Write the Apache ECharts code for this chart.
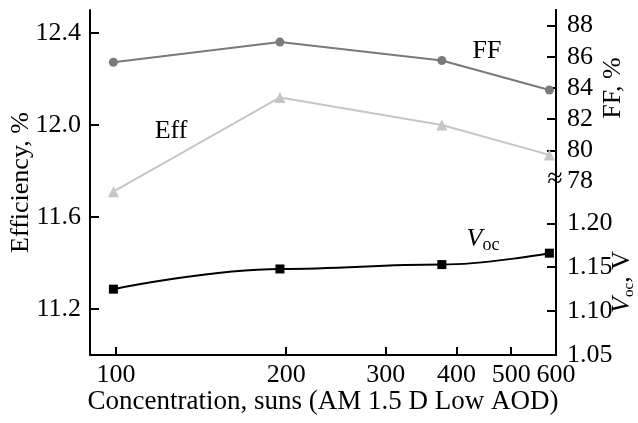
<!DOCTYPE html>
<html>
<head>
<meta charset="utf-8">
<script src="https://cdn.jsdelivr.net/npm/echarts@6/dist/echarts.min.js"></script>
<style>
  html, body { margin: 0; padding: 0; background: #fff; }
  #chart { width: 638px; height: 423px; }
</style>
</head>
<body>
<div id="chart"></div>
<script>
// concentration in suns (log x axis)
var concentration = [99, 195, 377, 584];
// efficiency, %  (left axis)
var effData = [11.71, 12.12, 12.0, 11.87];
// fill factor, %  (right axis, upper part)
var ffData = [85.65, 86.94, 85.76, 83.87];
// open circuit voltage, V  (right axis, lower part)
var vocData = [1.125, 1.148, 1.153, 1.166];

var xTicks = [100, 200, 300, 400, 500, 600];
var effTicks = [11.2, 11.6, 12.0, 12.4];
var ffTicks = [78, 80, 82, 84, 86, 88];
var vocTicks = [1.05, 1.1, 1.15, 1.2];

var FONT = "Liberation Serif";
var FS = 26;

function pairs(vals) {
  return concentration.map(function (c, i) { return [c, vals[i]]; });
}

var chart = echarts.init(document.getElementById("chart"));

var axisLine = { show: true, lineStyle: { color: "#000", width: 2 } };
var labelStyle = { color: "#000", fontFamily: FONT, fontSize: FS };

var option = {
  animation: false,
  textStyle: { fontFamily: FONT },
  grid: { left: 90, right: 82, top: 10, bottom: 68, containLabel: false, outerBoundsMode: "none" },
  xAxis: {
    type: "log",
    logBase: 10,
    min: 90,
    max: 600,
    name: "Concentration, suns (AM 1.5 D Low AOD)",
    nameLocation: "middle",
    nameGap: 33,
    nameMoveOverlap: false,
    nameTextStyle: { color: "#000", fontFamily: FONT, fontSize: 27 },
    axisLine: axisLine,
    axisTick: { show: true, inside: true, length: 8, lineStyle: { color: "#000", width: 2 }, customValues: [100, 200, 300, 400, 500] },
    axisLabel: Object.assign({ margin: 7, customValues: xTicks, formatter: function (v) { return String(Math.round(v)); } }, labelStyle),
    splitLine: { show: false },
    minorTick: { show: false }
  },
  yAxis: [
    {
      type: "value",
      position: "left",
      min: 11.0,
      max: 12.5,
      name: "Efficiency, %",
      nameLocation: "middle",
      nameRotate: 90,
      nameGap: 56,
      nameMoveOverlap: false,
      nameTextStyle: labelStyle,
      axisLine: axisLine,
      axisTick: { show: true, inside: true, length: 9, lineStyle: { color: "#000", width: 2 }, customValues: effTicks },
      axisLabel: Object.assign({ margin: 9, customValues: effTicks, formatter: function (v) { return v.toFixed(1); } }, labelStyle),
      splitLine: { show: false }
    },
    {
      type: "value",
      position: "right",
      min: 66.87,
      max: 89,
      axisLine: axisLine,
      axisTick: { show: true, inside: true, length: 9, lineStyle: { color: "#000", width: 2 }, customValues: [80, 82, 84, 86, 88] },
      axisLabel: Object.assign({ margin: 11, customValues: ffTicks, formatter: function (v) { return String(Math.round(v)); } }, labelStyle),
      splitLine: { show: false }
    },
    {
      type: "value",
      position: "right",
      min: 1.05,
      max: 1.443,
      axisLine: axisLine,
      axisTick: { show: true, inside: true, length: 9, lineStyle: { color: "#000", width: 2 }, customValues: [1.1, 1.15, 1.2] },
      axisLabel: Object.assign({ margin: 11, customValues: vocTicks, formatter: function (v) { return v.toFixed(2); } }, labelStyle),
      splitLine: { show: false }
    }
  ],
  series: [
    {
      name: "FF",
      type: "line",
      yAxisIndex: 1,
      data: pairs(ffData),
      symbol: "circle",
      symbolSize: 9,
      itemStyle: { color: "#7a7a7a" },
      lineStyle: { color: "#7a7a7a", width: 2 },
      z: 3
    },
    {
      name: "Eff",
      type: "line",
      yAxisIndex: 0,
      data: pairs(effData),
      symbol: "triangle",
      symbolSize: 11,
      itemStyle: { color: "#c6c6c6" },
      lineStyle: { color: "#c6c6c6", width: 2 },
      z: 2
    },
    {
      name: "Voc",
      type: "line",
      yAxisIndex: 2,
      data: pairs(vocData),
      smooth: 0.4,
      smoothMonotone: "x",
      symbol: "rect",
      symbolSize: 9,
      itemStyle: { color: "#000" },
      lineStyle: { color: "#000", width: 2 },
      z: 4
    }
  ],
  graphic: [
    { type: "text", x: 487, y: 51, style: { text: "FF", fontFamily: FONT, fontSize: FS, fill: "#000", align: "center", verticalAlign: "middle" } },
    { type: "text", x: 171, y: 131, style: { text: "Eff", fontFamily: FONT, fontSize: FS, fill: "#000", align: "center", verticalAlign: "middle" } },
    {
      type: "text", x: 483, y: 239,
      style: {
        text: "{v|V}{s|oc}", align: "center", verticalAlign: "middle", fill: "#000",
        rich: {
          v: { fontFamily: FONT, fontSize: FS, fontStyle: "italic", lineHeight: 30 },
          s: { fontFamily: FONT, fontSize: 18, lineHeight: 20, verticalAlign: "bottom" }
        }
      }
    },
    { type: "text", x: 613, y: 88, rotation: Math.PI / 2, style: { text: "FF, %", fontFamily: FONT, fontSize: FS, fill: "#000", align: "center", verticalAlign: "middle" } },
    {
      type: "text", x: 622, y: 282, rotation: Math.PI / 2,
      style: {
        text: "{v|V}{s|oc}{n|, V}", align: "center", verticalAlign: "middle", fill: "#000",
        rich: {
          v: { fontFamily: FONT, fontSize: FS, fontStyle: "italic", lineHeight: 30 },
          s: { fontFamily: FONT, fontSize: 15, lineHeight: 20, verticalAlign: "bottom" },
          n: { fontFamily: FONT, fontSize: FS, lineHeight: 30 }
        }
      }
    },
    { type: "text", x: 555, y: 180, style: { text: "\u2248", fontFamily: FONT, fontSize: 28, fill: "#000", align: "center", verticalAlign: "middle" } }
  ]
};

chart.setOption(option);
</script>
</body>
</html>
